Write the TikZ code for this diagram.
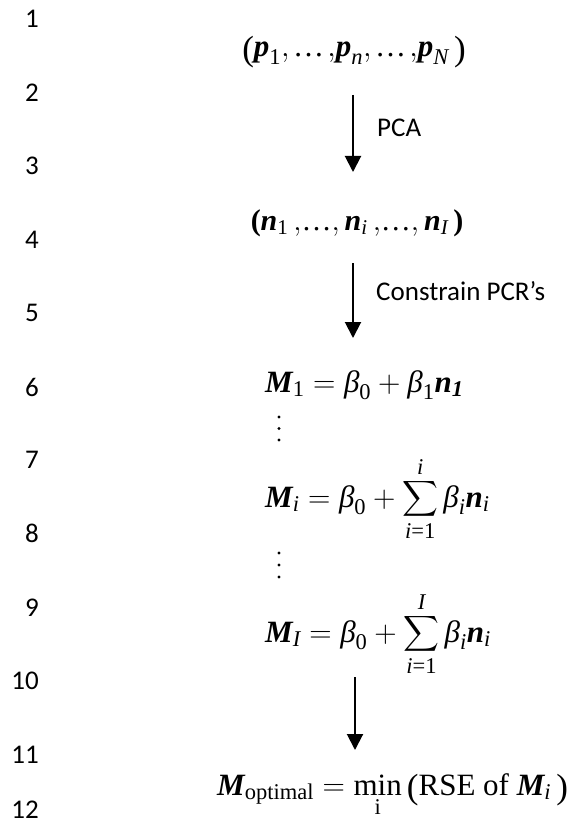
\RequirePackage{fix-cm}
\documentclass[tikz,border=0pt]{standalone}
\usepackage{amsmath}
\usepackage{exscale}
\usepackage{fontspec}
\setmainfont{Liberation Serif}
\newfontfamily\numfont{Carlito}
\usetikzlibrary{arrows.meta}
\DeclareMathSizes{31}{31}{22.5}{17}
\newcommand\bfit[1]{\text{\bfseries\itshape #1}}
\newcommand\tit[1]{\text{\itshape #1}}
\newcommand\bigpar[1]{\text{\raisebox{-3.5pt}{\fontsize{35}{40}\selectfont #1}}}
\begin{document}
\begin{tikzpicture}[x=1pt,y=-1pt,
  mrow/.style={inner sep=0pt, font=\fontsize{31}{37}\selectfont},
  prow/.style={inner sep=0pt, font=\fontsize{31}{37}\selectfont},
  nrow/.style={inner sep=0pt, font=\fontsize{30}{36}\selectfont},
  lab/.style={inner sep=0pt, font=\numfont\fontsize{27}{32}\selectfont},
  num/.style={inner sep=0pt, font=\numfont\fontsize{27}{32}\selectfont},
  arr/.style={line width=2pt, -{Triangle[length=16pt,width=16pt]}}]
\useasboundingbox (0,0) rectangle (575,821);
\fill[white] (0,0) rectangle (575,821);
% line numbers
\foreach \k/\y in {1/18.5,2/93,3/166,4/240,5/313,6/387,7/460,8/533,9/608,10/681,11/755,12/810}
  \node[num, anchor=east] (ln\k) at (39,\y) {\k};
% rows
\node[prow, anchor=base] (p) at (354,57)
  {$\bigpar{(}\bfit{p}_{\text{1}}{,}\mkern2mu\text{…}\mkern2mu{,}\bfit{p}_{\tit{n}}{,}\mkern2mu\text{…}\mkern2mu{,}\bfit{p}_{\tit{N}}\,\bigpar{)}$};
\node[nrow, anchor=base] (n) at (357,230)
  {$\text{\bfseries(}\bfit{n}_{\text{1}}\,{,}\text{…}{,}\,\bfit{n}_{\tit{i}}\,{,}\text{…}{,}\,\bfit{n}_{\tit{I}}\,\text{\bfseries)}$};
\node[mrow, anchor=base west] (m1) at (265,392)
  {$\bfit{M}_{\text{1}} = \tit{β}_{\text{0}} + \tit{β}_{\text{1}}\bfit{n}_{\bfit{1}}$};
\node[mrow, anchor=base west] (mi) at (265,507)
  {$\displaystyle \bfit{M}_{\tit{i}} = \tit{β}_{\text{0}} + \sum_{\tit{i}\text{=1}}^{\tit{i}} \tit{β}_{\tit{i}}\bfit{n}_{\tit{i}}$};
\node[mrow, anchor=base west] (mI) at (265,642)
  {$\displaystyle \bfit{M}_{\tit{I}} = \tit{β}_{\text{0}} + \sum_{\tit{i}\text{=1}}^{\tit{I}} \tit{β}_{\tit{i}}\bfit{n}_{\tit{i}}$};
\node[mrow, anchor=base west] (mo) at (217,795)
  {$\bfit{M}_{\text{optimal}} = \mathop{\text{min}}\limits_{\text{i}}\bigpar{(}\text{RSE of }\bfit{M}_{\tit{i}}\,\bigpar{)}$};
% vertical dots
\foreach \y in {417,428.5,440} \fill (279,\y) circle (1.6);
\foreach \y in {553,565,577} \fill (279,\y) circle (1.6);
% arrows
\coordinate (a1s) at (353,95);  \coordinate (a1e) at (353,172);
\coordinate (a2s) at (353,263); \coordinate (a2e) at (353,338);
\coordinate (a3s) at (355,677); \coordinate (a3e) at (355,750);
\draw[arr] (a1s) -- (a1e);
\draw[arr] (a2s) -- (a2e);
\draw[arr] (a3s) -- (a3e);
\node[lab, anchor=west] (pca) at (377,127.5) {PCA};
\node[lab, anchor=west] (cpcr) at (376,291) {Constrain PCR’s};
\end{tikzpicture}
\end{document}
